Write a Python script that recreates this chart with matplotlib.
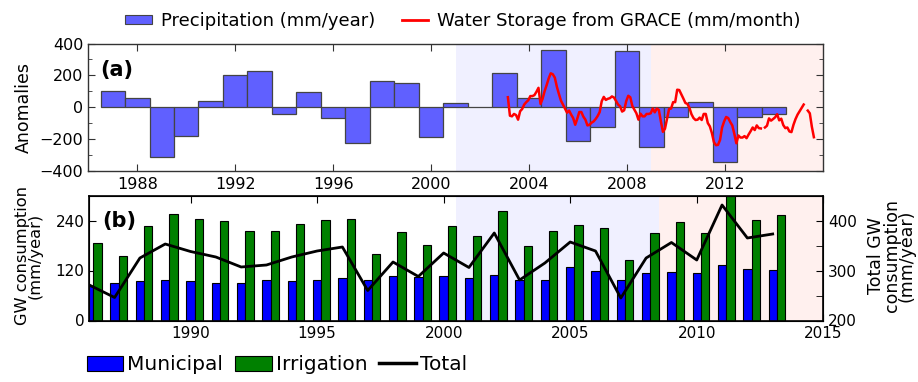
import numpy as np
import matplotlib.pyplot as plt
from matplotlib.patches import Patch
from matplotlib.lines import Line2D
from matplotlib.ticker import MultipleLocator, FixedLocator

# (a) annual precipitation anomalies, mm/year
precip_years = np.arange(1987, 2015)
precip_anom = [100, 60, -310, -180, 40, 205, 228, -42, 97, -66, -222, 165, 150, -186,
               27, 0, 218, 55, 357, -213, -122, 355, -252, -62, 30, -343, -59, -43]

# (a) GRACE water storage anomalies, monthly from early 2003 (nan = missing month)
grace_start = 2003.14
grace_anom = [63, -53, -57, -42, -49, -78, -25, -11, 17, 32,
              44, 70, 70, 76, 97, 122, 21, 53, 101, 139,
              181, 213, 207, 186, 129, 84, 42, 17, -8, -34,
              -21, -46, -68, -110, -72, -30, -30, -59, -78, -114,
              -110, -97, -89, -74, -55, -30, 38, 65, 46, 53,
              57, 68, 61, 40, 17, 6, -27, -19, 38, 72,
              63, 8, -15, -38, -78, -40, -57, -57, -42, -42,
              -38, -8, -32, -8, -17, -89, -154, -135, -74, -11,
              -8, 32, 32, 110, 108, 82, 55, 27, 21, -4,
              -44, -68, -80, -78, -65, -80, -42, -42, -99, -120,
              -162, -219, -238, -236, -205, -127, -89, -61, -68, -93,
              -114, -167, -226, -177, -190, -190, -181, -194, -171, -150,
              -127, -143, -114, -131, -133, np.nan, -127, -116, -70, -84,
              -74, -63, -44, -82, -72, -112, -131, -127, -152, -156,
              -110, -74, -46, -25, -4, 17, np.nan, -21, -38, -122,
              -188]

# (b) groundwater consumption, mm/year
gw_years = np.arange(1986, 2014)
municipal = [82, 91, 95, 98, 94, 90, 90, 97, 94, 97, 102, 98, 106, 105,
             106, 102, 110, 98, 98, 128, 118, 98, 115, 117, 113, 133, 124, 121]
irrigation = [185, 155, 226, 256, 243, 240, 215, 214, 232, 241, 243, 160, 212, 181,
              227, 203, 263, 180, 215, 230, 222, 146, 210, 237, 210, 300, 242, 253]
total = [271, 246, 325, 353, 338, 327, 307, 311, 327, 339, 347, 260, 317, 288,
         335, 306, 375, 281, 315, 357, 339, 245, 325, 356, 321, 431, 365, 373]

W, H = 918, 382
fig = plt.figure(figsize=(W / 100, H / 100), dpi=100)
ax_a = fig.add_axes([88.3 / W, 1 - 171 / H, 734.4 / W, 127.5 / H])
ax_b = fig.add_axes([89.3 / W, 1 - 320.5 / H, 734 / W, 125 / H])

prec_color = '#6060ff'
shade_blue = '#f0f0ff'
shade_pink = '#fff0ee'

# ---- panel (a)
ax_a.axvspan(2001, 2009, color=shade_blue, lw=0, zorder=0)
ax_a.axvspan(2009, 2016, color=shade_pink, lw=0, zorder=0)
ax_a.bar(precip_years, precip_anom, width=1.0, color=prec_color,
         edgecolor='#444444', linewidth=0.9, zorder=2)
grace_t = grace_start + np.arange(len(grace_anom)) / 12
ax_a.plot(grace_t, grace_anom, color='#ff0000', lw=1.8, zorder=3)
ax_a.set_xlim(1986, 2016)
ax_a.set_ylim(-400, 400)
ax_a.set_xticks(range(1988, 2013, 4))
ax_a.yaxis.set_major_locator(MultipleLocator(200))
ax_a.yaxis.set_minor_locator(MultipleLocator(100))
ax_a.tick_params(which='both', direction='in', top=True, right=True,
                 labelsize=11.5, color='#333333')
ax_a.tick_params(which='major', length=5)
ax_a.tick_params(which='minor', length=3)
ax_a.tick_params(axis='x', pad=4)
for s in ax_a.spines.values():
    s.set_color('#333333')
    s.set_linewidth(1.0)
ax_a.set_ylabel('Anomalies', fontsize=12.5)
ax_a.yaxis.set_label_coords(-0.076, 0.5)
ax_a.text(0.016, 0.79, '(a)', transform=ax_a.transAxes, fontsize=15,
          fontweight='bold', ha='left', va='center', zorder=5)

# ---- panel (b)
bw = 0.33
ax_b.axvspan(2000.5, 2008.5, color=shade_blue, lw=0, zorder=0)
ax_b.axvspan(2008.5, 2015, color=shade_pink, lw=0, zorder=0)
ax_b.bar(gw_years, municipal, width=bw, color='#0000ff', edgecolor='black',
         linewidth=0.8, zorder=2)
ax_b.bar(gw_years + bw, irrigation, width=bw, color='#008000', edgecolor='black',
         linewidth=0.8, zorder=2)
ax_b.set_xlim(1986, 2015)
ax_b.set_ylim(0, 300)
ax_b.set_xticks(range(1990, 2016, 5))
ax_b.set_yticks([0, 120, 240])
ax_b.tick_params(direction='in', top=True, right=False, length=5, labelsize=11)
ax_b.tick_params(axis='x', pad=4)
for s in ax_b.spines.values():
    s.set_linewidth(1.2)
ax_b.set_ylabel('GW consumption\n(mm/year)', fontsize=11.7, linespacing=0.8)
ax_b.yaxis.set_label_coords(-0.063, 0.52)
ax_b.text(0.017, 0.80, '(b)', transform=ax_b.transAxes, fontsize=15,
          fontweight='bold', ha='left', va='center', zorder=5)

ax_t = ax_b.twinx()
ax_t.plot(gw_years, total, color='black', lw=2.0)
ax_t.set_ylim(200, 450)
ax_t.yaxis.set_major_locator(FixedLocator([200, 300, 400]))
ax_t.yaxis.set_minor_locator(FixedLocator([250, 350]))
ax_t.tick_params(which='both', direction='in', labelsize=11)
ax_t.tick_params(which='major', length=5)
ax_t.tick_params(which='minor', length=5)
ax_t.set_ylabel('Total GW\nconsumption\n(mm/year)', fontsize=12.5, linespacing=0.8)
ax_t.yaxis.set_label_coords(1.06, 0.52)

# ---- legends
top_handles = [Patch(facecolor=prec_color, edgecolor='#444444', linewidth=0.8),
               Line2D([], [], color='#ff0000', lw=2)]
fig.legend(top_handles, ['Precipitation (mm/year)', 'Water Storage from GRACE (mm/month)'],
           loc='center', bbox_to_anchor=(463 / W, 1 - 21 / H), ncol=2, frameon=False,
           fontsize=13, handlelength=1.45, handleheight=0.45, handletextpad=0.5,
           columnspacing=1.5, borderpad=0)

bottom_handles = [Patch(facecolor='#0000ff', edgecolor='black', linewidth=0.8),
                  Patch(facecolor='#008000', edgecolor='black', linewidth=0.8),
                  Line2D([], [], color='black', lw=2.5)]
fig.legend(bottom_handles, ['Municipal', 'Irrigation', 'Total'],
           loc='center', bbox_to_anchor=(277 / W, 1 - 365 / H), ncol=3, frameon=False,
           fontsize=14.5, handlelength=1.8, handleheight=0.75, handletextpad=0.2,
           columnspacing=0.6, borderpad=0)

fig.savefig('out.png', dpi=100, facecolor='white')
